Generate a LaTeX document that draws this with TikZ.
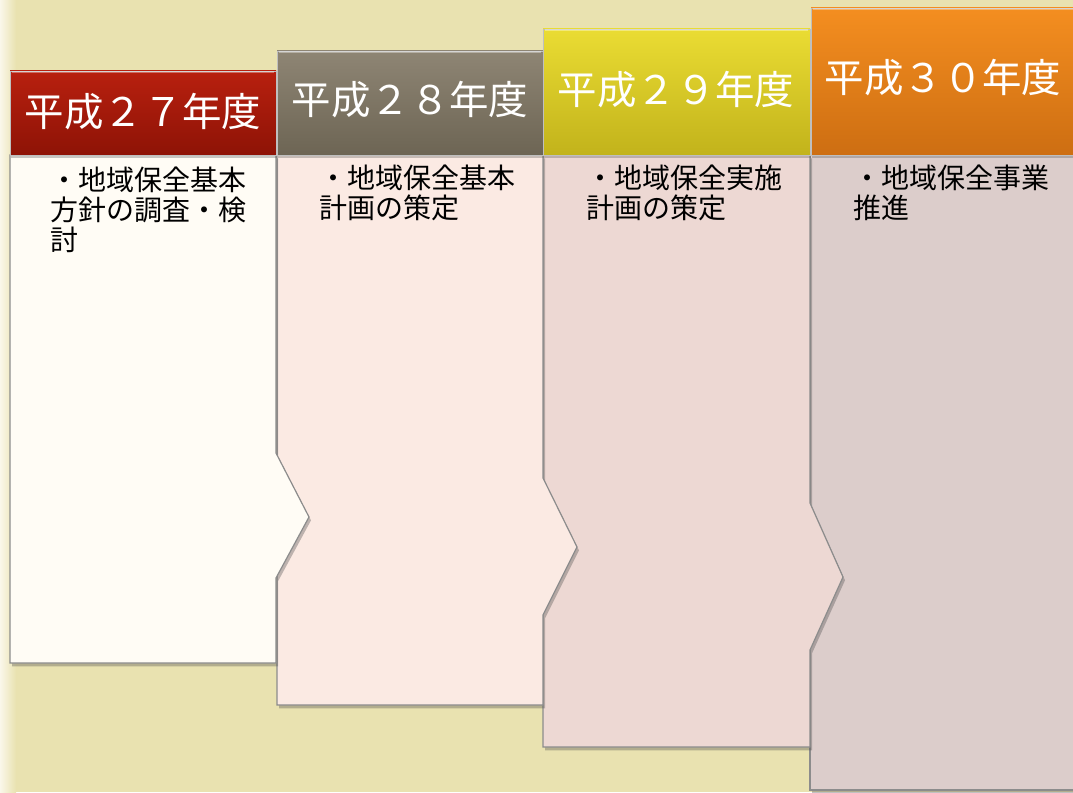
\documentclass[tikz,border=0pt]{standalone}
\usepackage{fontspec}
\newfontfamily\jp{Noto Sans CJK JP}
\usetikzlibrary{shadows}
\definecolor{bg}{HTML}{E9E2B0}
\definecolor{bgl}{HTML}{FAF7EA}
\definecolor{bodyA}{HTML}{FFFCF5}
\definecolor{bodyB}{HTML}{FBEAE3}
\definecolor{bodyC}{HTML}{EDD8D3}
\definecolor{bodyD}{HTML}{DCCDCB}
\definecolor{hAt}{HTML}{B8200F}
\definecolor{hAb}{HTML}{8E1306}
\definecolor{hBt}{HTML}{8E8574}
\definecolor{hBb}{HTML}{6D6554}
\definecolor{hCt}{HTML}{EADC33}
\definecolor{hCb}{HTML}{C2B31B}
\definecolor{hDt}{HTML}{F48E20}
\definecolor{hDb}{HTML}{CD6E12}
\begin{document}
\begin{tikzpicture}[x=0.75pt,y=-0.75pt,
  hdr/.style={text=white,font=\jp\fontsize{29.6}{30}\selectfont,inner sep=0pt},
  btxt/.style={anchor=north west,align=left,inner sep=0pt,font=\jp\fontsize{21}{22.5}\selectfont,text=black},
  bodybox/.style={draw=black!45,line width=0.9pt,drop shadow={shadow xshift=1.5pt,shadow yshift=-2.5pt,opacity=0.35,fill=black!70}},
  headbox/.style={draw=black!25,line width=0.5pt,drop shadow={shadow xshift=1pt,shadow yshift=-2pt,opacity=0.3,fill=black!70}},
  hilite/.style={draw=white,opacity=0.35,line width=1.5pt}]
\useasboundingbox (0,0) rectangle (1073,792);
% background
\fill[bg] (0,0) rectangle (1073,792);
\shade[left color=bgl,right color=bg] (0,0) rectangle (16,792);
% bodies (right to left so the chevrons overlap the next column)
\filldraw[bodybox,fill=bodyD] (810,155) -- (1076,155) -- (1076,790) -- (810,790) -- cycle;
\filldraw[bodybox,fill=bodyC] (543,155) -- (810,155) -- (810,503) -- (843,577) -- (810,650) -- (810,747) -- (543,747) -- cycle;
\filldraw[bodybox,fill=bodyB] (277,155) -- (543,155) -- (543,478) -- (577,547) -- (543,615) -- (543,705) -- (277,705) -- cycle;
\filldraw[bodybox,fill=bodyA] (10,155) -- (276,155) -- (276,453) -- (309,517) -- (276,578) -- (276,663) -- (10,663) -- cycle;
% headers
\shade[headbox,top color=hAt,bottom color=hAb] (10,71) rectangle (276,155);
\shade[headbox,top color=hBt,bottom color=hBb] (277,51) rectangle (543,155);
\shade[headbox,top color=hCt,bottom color=hCb] (543,29) rectangle (810,155);
\shade[headbox,top color=hDt,bottom color=hDb] (811,8) rectangle (1076,155);
\draw[hilite] (12,72.5) -- (274,72.5);
\draw[hilite] (279,52.5) -- (541,52.5);
\draw[hilite] (545,30.5) -- (808,30.5);
\draw[hilite] (813,9.5) -- (1073,9.5);
% header texts
\node[hdr] (h1) at (143,112) {平成２７年度};
\node[hdr] (h2) at (410,100) {平成２８年度};
\node[hdr] (h3) at (676,90) {平成２９年度};
\node[hdr] (h4) at (943,78) {平成３０年度};
% body texts
\node[btxt] (t1) at (50,167) {・地域保全基本\\方針の調査・検\\討};
\node[btxt] (t2) at (319,165) {・地域保全基本\\計画の策定};
\node[btxt] (t3) at (586,165) {・地域保全実施\\計画の策定};
\node[btxt] (t4) at (853,165) {・地域保全事業\\推進};
\end{tikzpicture}
\end{document}
